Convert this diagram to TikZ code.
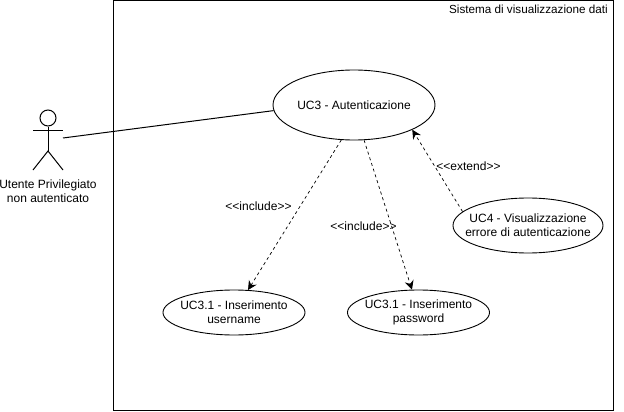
\documentclass[tikz,border=0pt]{standalone}
\usepackage{fontspec}
\setmainfont{Liberation Sans}
\usetikzlibrary{arrows.meta}
\usetikzlibrary{shapes.geometric}
\tikzset{
  usecase/.style={draw, ellipse, line width=.9pt, align=center, inner xsep=-20pt, inner ysep=-6pt},
  usecasedue/.style={usecase, execute at begin node=\rule{0pt}{11pt}},
  dep/.style={draw, line width=.7pt, dash pattern=on 3pt off 3pt, -{Stealth[length=9pt,width=9pt,inset=3pt]}},
  deplabel/.style={inner sep=0pt},
  limb/.style={draw, line width=1pt}
}
\begin{document}
\begin{tikzpicture}[x=1pt, y=-1pt, font=\fontsize{12}{14}\selectfont]
    \useasboundingbox (0,0) rectangle (624,412);

    % system box
    \node[draw, line width=1pt, minimum width=500pt, minimum height=410pt, inner sep=0pt] (sistema) at (363,205.5) {};
    \node[anchor=east, inner sep=0pt, font=\fontsize{11.7}{14}\selectfont] (titolo) at (608,9.5) {Sistema di visualizzazione dati};

    % actor
    \node[draw, circle, line width=1pt, minimum size=16pt, inner sep=0pt] (testa) at (48,118) {};
    \coordinate (manosx) at (33,130);
    \coordinate (manodx) at (63,130);
    \coordinate (bacino) at (48,151);
    \coordinate (piedesx) at (33,170);
    \coordinate (piededx) at (63,170);
    \coordinate (attore) at (63,138);
    \path[limb] (testa) -- (bacino);
    \path[limb] (manosx) -- (manodx);
    \path[limb] (piedesx) -- (bacino) -- (piededx);
    \node[align=center, inner sep=0pt] (utente) at (48,191.5) {Utente Privilegiato\\non autenticato};

    % use cases
    \node[usecase, minimum width=162pt, minimum height=70pt] (uc3) at (354,105) {UC3 - Autenticazione};
    \node[usecasedue, minimum width=142pt, minimum height=45pt] (uc31) at (234,312.5) {UC3.1 - Inserimento\\username};
    \node[usecasedue, minimum width=142pt, minimum height=45pt] (uc32) at (418.5,312.5) {UC3.1 - Inserimento\\password};
    \node[usecasedue, minimum width=150pt, minimum height=55pt] (uc4) at (528,225.5) {UC4 - Visualizzazione\\errore di autenticazione};

    % connectors
    \draw[line width=1pt] (attore) -- (uc3.-176.5);
    \path[dep] (uc3.-110) -- (uc31.58);
    \path[dep] (uc3.-74) -- (uc32.106);
    \path[dep] (uc4.168.8) -- (uc3.-23);

    % labels
    \node[deplabel] (inc1) at (258.5,206.5) {<{}<include>{}>};
    \node[deplabel] (inc2) at (363.5,226.5) {<{}<include>{}>};
    \node[deplabel] (ext) at (468.5,166) {<{}<extend>{}>};
\end{tikzpicture}
\end{document}
